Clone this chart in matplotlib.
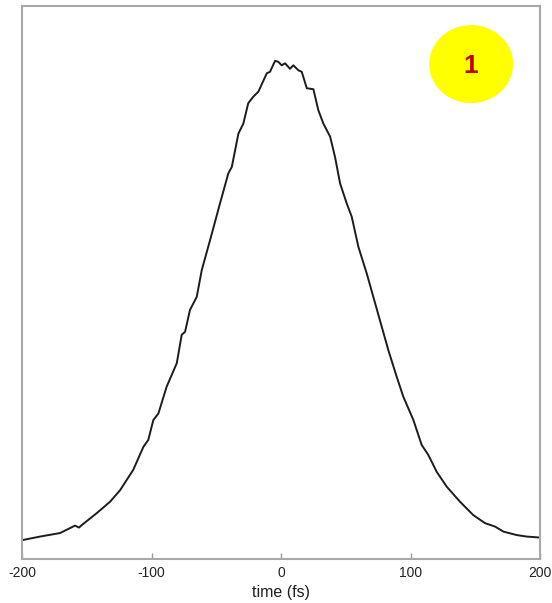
import numpy as np
import matplotlib
matplotlib.use('Agg')
import matplotlib.pyplot as plt
from matplotlib.patches import Ellipse

plt.rcParams['font.family'] = ['Liberation Sans', 'DejaVu Sans']

# Measured pulse intensity profile (normalised to the peak)
time_fs = [-200.0, -199.5, -186.1, -170.7, -162.9, -159.1, -156.0, -153.9, -142.3, -132.0, -124.3,
           -114.1, -106.3, -102.5, -98.6, -94.7, -88.3, -80.5, -76.7, -74.1, -70.3,
           -65.1, -61.2, -54.8, -47.1, -40.7, -38.0, -32.9, -29.1, -25.3, -21.4,
           -17.5, -11.0, -8.5, -4.6, -2.1, 0.5, 3.1, 5.6, 6.9, 9.5,
           13.4, 16.0, 19.9, 25.0, 28.8, 32.7, 37.9, 41.7, 45.6, 50.7,
           54.6, 59.7, 66.2, 71.3, 77.8, 82.9, 89.3, 94.4, 102.2, 108.6,
           113.7, 120.2, 128.0, 138.2, 148.5, 157.5, 165.3, 171.7, 182.0, 189.7,
           200.0]
intensity = [0.037, 0.038, 0.045, 0.052, 0.062, 0.067, 0.063, 0.068, 0.092, 0.115, 0.138,
             0.179, 0.225, 0.239, 0.279, 0.292, 0.346, 0.393, 0.450, 0.456, 0.500,
             0.526, 0.580, 0.640, 0.714, 0.774, 0.787, 0.854, 0.874, 0.915, 0.928,
             0.938, 0.975, 0.978, 1.000, 0.998, 0.991, 0.995, 0.988, 0.984, 0.991,
             0.981, 0.978, 0.945, 0.943, 0.901, 0.874, 0.848, 0.807, 0.754, 0.714,
             0.687, 0.627, 0.573, 0.526, 0.466, 0.419, 0.366, 0.326, 0.279, 0.229,
             0.209, 0.175, 0.145, 0.115, 0.088, 0.072, 0.065, 0.055, 0.048, 0.045,
             0.043]
x_ticks = [-200, -100, 0, 100, 200]
badge_text = '1'

fig = plt.figure(figsize=(5.52, 6.03), dpi=100)
ax = fig.add_axes([0.0399, 0.073, 0.9384, 0.917])

ax.plot(time_fs, intensity, color='#1c1c1c', linewidth=1.4)

ax.set_xlim(-200, 200)
ax.set_ylim(0, 1.11)
ax.set_xticks(x_ticks)
ax.set_xticklabels([str(t) for t in x_ticks])
ax.set_yticks([])
ax.tick_params(axis='x', direction='in', length=4, width=1, color='#999999',
               labelsize=10, labelcolor='#222222', pad=5)
for spine in ax.spines.values():
    spine.set_color('#a8a8a8')
    spine.set_linewidth(1.5)
ax.set_xlabel('time (fs)', fontsize=11.5, color='#1e1e1e', labelpad=4)

# numbered badge in the top-right corner
ax.add_patch(Ellipse((0.867, 0.895), 0.162, 0.141, transform=ax.transAxes,
                     facecolor='#ffff00', edgecolor='none'))
ax.text(0.867, 0.892, badge_text, transform=ax.transAxes, ha='center', va='center',
        fontsize=19, fontweight='bold', color='#c00000')

fig.savefig('out.png', dpi=100)
